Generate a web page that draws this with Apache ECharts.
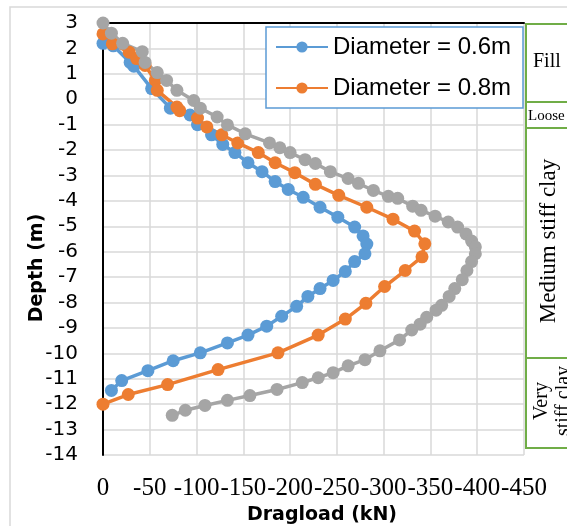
<!DOCTYPE html>
<html><head><meta charset="utf-8">
<script src="https://cdn.jsdelivr.net/npm/echarts@6/dist/echarts.min.js"></script>
<style>html,body{margin:0;padding:0;background:#fff}#c{width:567px;height:526px}</style>
</head><body><div id="c"></div>
<script>
const seriesNames = ['Diameter = 0.6m', 'Diameter = 0.8m', 'Diameter = 1.0m'];
// [dragload (kN), depth (m)]
const dia06 = [[0,2.2],[11,2.1],[29,1.45],[33,1.3],[52,0.42],[72,-0.35],[93,-0.62],[101,-1.0],[116,-1.4],[128,-1.78],[141,-2.1],[155,-2.5],[170,-2.85],[184,-3.24],[198,-3.55],[214,-3.86],[232,-4.25],[251,-4.64],[269,-5.03],[278,-5.38],[282,-5.7],[280,-6.08],[269,-6.39],[259,-6.78],[246,-7.13],[232,-7.45],[219,-7.76],[207,-8.15],[191,-8.54],[175,-8.93],[155,-9.28],[133,-9.59],[104,-9.98],[75,-10.29],[48,-10.68],[20,-11.07],[9,-11.46]];
const dia08 = [[0,2.57],[10,2.18],[28,1.85],[36,1.6],[45,1.33],[56,0.74],[58,0.35],[79,-0.31],[82,-0.45],[101,-0.74],[111,-1.09],[127,-1.4],[144,-1.72],[166,-2.1],[184,-2.5],[205,-2.89],[227,-3.35],[252,-3.78],[282,-4.25],[310,-4.72],[333,-5.19],[344,-5.69],[341,-6.2],[323,-6.74],[301,-7.37],[281,-8.03],[259,-8.65],[230,-9.28],[187,-9.98],[123,-10.64],[69,-11.23],[27,-11.62],[0,-12.0]];
const dia10 = [[0,3.0],[9,2.6],[21,2.2],[42,1.87],[45,1.45],[58,1.05],[68,0.74],[79,0.35],[97,-0.05],[104,-0.35],[122,-0.7],[133,-1.01],[152,-1.36],[178,-1.72],[189,-1.91],[200,-2.1],[216,-2.38],[227,-2.53],[243,-2.85],[262,-3.12],[273,-3.31],[289,-3.59],[305,-3.82],[315,-3.9],[331,-4.21],[340,-4.37],[355,-4.6],[369,-4.83],[379,-5.03],[388,-5.3],[394,-5.58],[398,-5.81],[398,-6.08],[394,-6.39],[389,-6.74],[384,-7.1],[376,-7.45],[370,-7.76],[362,-8.11],[356,-8.3],[346,-8.58],[339,-8.85],[330,-9.08],[317,-9.47],[296,-9.9],[280,-10.25],[262,-10.49],[246,-10.76],[230,-10.96],[213,-11.15],[186,-11.42],[157,-11.66],[133,-11.85],[109,-12.05],[88,-12.24],[74,-12.44]];
const xTickLabels = ['0','-50','-100','-150','-200','-250','-300','-350','-400','-450'];
const soilLayers = ['Fill', 'Loose', 'Medium stiff clay', 'Very\nstiff clay'];
const axisTitles = ['Dragload (kN)', 'Depth (m)'];
const colors = ['#5B9BD5', '#ED7D31', '#A5A5A5'];

const chart = echarts.init(document.getElementById('c'), null, {renderer: 'canvas'});
const gridCol = '#D9D9D9';
const green = '#70AD47';
const mk = (name, data, color) => ({
  name, type: 'line', data, symbol: 'circle', symbolSize: 13,
  itemStyle: {color}, lineStyle: {color, width: 3.5}, silent: true, animation: false
});
chart.setOption({
  animation: false,
  backgroundColor: '#fff',
  grid: {left: 103, right: 43, top: 23, bottom: 71, containLabel: false, outerBoundsMode: 'none'},
  xAxis: [{
    type: 'value', min: 0, max: 450, interval: 50, position: 'bottom',
    axisLine: {show: false}, axisTick: {show: false},
    splitLine: {show: true, lineStyle: {color: gridCol, width: 1.5}},
    axisLabel: {show: true, margin: 21, color: '#000', fontFamily: 'Liberation Serif', fontSize: 25,
      formatter: v => xTickLabels[Math.round(v / 50)]},
    name: axisTitles[0], nameLocation: 'middle', nameGap: 45,
    nameTextStyle: {fontFamily: 'DejaVu Sans', fontWeight: 'bold', fontSize: 19, color: '#000', padding: [0, 0, 0, 17]}
  }, {
    type: 'value', min: 0, max: 450, interval: 50,
    axisLine: {show: true, onZero: true, lineStyle: {color: '#000', width: 2}},
    axisTick: {show: false}, axisLabel: {show: false}, splitLine: {show: false}
  }],
  yAxis: {
    type: 'value', min: -14, max: 3, interval: 1,
    axisLine: {show: true, lineStyle: {color: '#000', width: 2}}, axisTick: {show: false},
    splitLine: {show: true, lineStyle: {color: gridCol, width: 1.5}},
    axisLabel: {margin: 25, color: '#000', fontFamily: 'DejaVu Sans', fontSize: 20, padding: [6, 0, 0, 0]}
  },
  legend: {
    data: [seriesNames[0], seriesNames[1]], orient: 'vertical', left: 275, top: 35, padding: 0,
    itemWidth: 52, itemHeight: 14, itemGap: 17, z: 20,
    textStyle: {fontFamily: 'Liberation Sans', fontSize: 24, color: '#000'}
  },
  graphic: [
    {type: 'rect', z: 0, silent: true, shape: {x: 10, y: 7, width: 700, height: 700}, style: {fill: 'none', stroke: gridCol, lineWidth: 1.5}},
    {type: 'rect', z: 10, silent: true, shape: {x: 266, y: 27, width: 257, height: 81}, style: {fill: '#fff', stroke: '#5B9BD5', lineWidth: 1.5}},
    {type: 'rect', z: 10, silent: true, shape: {x: 526, y: 24, width: 80, height: 78}, style: {fill: '#fff', stroke: green, lineWidth: 2}},
    {type: 'rect', z: 10, silent: true, shape: {x: 526, y: 102, width: 80, height: 26}, style: {fill: '#fff', stroke: green, lineWidth: 2}},
    {type: 'rect', z: 10, silent: true, shape: {x: 526, y: 128, width: 80, height: 230}, style: {fill: '#fff', stroke: green, lineWidth: 2}},
    {type: 'rect', z: 10, silent: true, shape: {x: 526, y: 358, width: 80, height: 90}, style: {fill: '#fff', stroke: green, lineWidth: 2}},
    {type: 'text', z: 11, silent: true, x: 533, y: 62, style: {text: soilLayers[0], fontFamily: 'Liberation Serif', fontSize: 20, fill: '#000', verticalAlign: 'middle'}},
    {type: 'text', z: 11, silent: true, x: 528, y: 116, style: {text: soilLayers[1], fontFamily: 'Liberation Serif', fontSize: 15, fill: '#000', verticalAlign: 'middle'}},
    {type: 'text', z: 11, silent: true, x: 549, y: 241, rotation: Math.PI / 2, style: {text: soilLayers[2], fontFamily: 'Liberation Serif', fontSize: 23, fill: '#000', align: 'center', verticalAlign: 'middle'}},
    {type: 'text', z: 11, silent: true, x: 553, y: 401, rotation: Math.PI / 2, style: {text: soilLayers[3], fontFamily: 'Liberation Serif', fontSize: 20, lineHeight: 22, fill: '#000', align: 'center', verticalAlign: 'middle'}},
    {type: 'text', z: 11, silent: true, x: 37, y: 268, rotation: Math.PI / 2, style: {text: axisTitles[1], fontFamily: 'DejaVu Sans', fontWeight: 'bold', fontSize: 19, fill: '#000', align: 'center', verticalAlign: 'middle'}}
  ],
  series: [mk(seriesNames[0], dia06, colors[0]), mk(seriesNames[1], dia08, colors[1]), mk(seriesNames[2], dia10, colors[2])]
});
</script></body></html>
